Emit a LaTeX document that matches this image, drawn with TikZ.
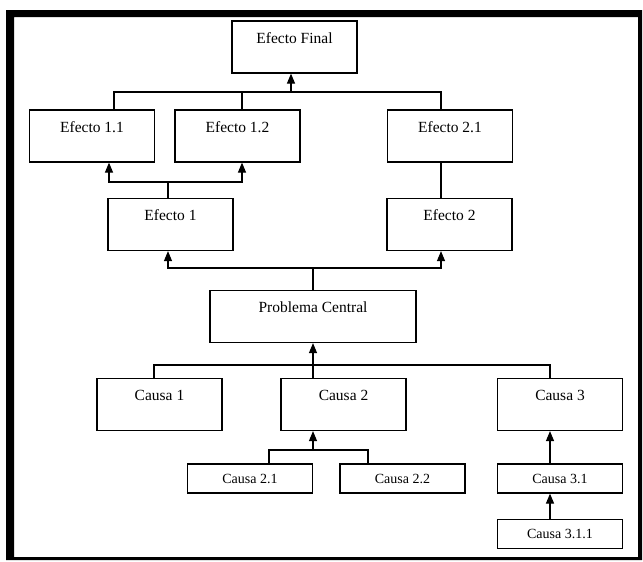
\documentclass[tikz,border=0pt]{standalone}
\usepackage{fontspec}
\setmainfont{Liberation Serif}
\usetikzlibrary{arrows.meta}

\begin{document}
\begin{tikzpicture}[x=1pt,y=-1pt,line width=1.2pt,
  caja/.style={draw,inner sep=0pt,minimum width=125pt,text height=22pt,text depth=30pt,font=\fontsize{15.5}{18}\selectfont},
  cajita/.style={caja,text height=19pt,text depth=10pt,font=\fontsize{14}{16}\selectfont},
  flecha/.style={-{Triangle[length=10pt,width=8pt]}}]
\useasboundingbox (0,0) rectangle (643,562);
\fill (6,10) rectangle (642,17) (6,10) rectangle (14,560) (638,10) rectangle (642,560) (6,557) rectangle (642,560);

\node[caja] (final) at (294.5,47) {Efecto Final};
\node[caja] (e11) at (92,136) {Efecto 1.1};
\node[caja] (e12) at (237.5,136) {Efecto 1.2};
\node[caja] (e21) at (450,136) {Efecto 2.1};
\node[caja] (e1) at (170.5,224.5) {Efecto 1};
\node[caja] (e2) at (449.5,224.5) {Efecto 2};
\node[caja,minimum width=206pt] (pc) at (313,316.5) {Problema Central};
\node[caja] (c1) at (159.5,404.5) {Causa 1};
\node[caja] (c2) at (343.5,404.5) {Causa 2};
\node[caja] (c3) at (560,404.5) {Causa 3};
\node[cajita] (c21) at (250,478.5) {Causa 2.1};
\node[cajita] (c22) at (402.5,478.5) {Causa 2.2};
\node[cajita] (c31) at (560,478.5) {Causa 3.1};
\node[cajita] (c311) at (560,534) {Causa 3.1.1};

\coordinate (tj) at (291,92);
\coordinate (t1) at (114,92);
\coordinate (t2) at (242,92);
\coordinate (t3) at (441,92);
\draw (t1 |- e11.north) -- (t1) -- (t3) -- (t3 |- e21.north);
\draw (t2) -- (t2 |- e12.north);
\draw[flecha] (tj) -- (tj |- final.south);

\coordinate (a1) at (109,182);
\coordinate (a2) at (242,182);
\coordinate (a3) at (168,182);
\draw[flecha] (a3 |- e1.north) -- (a3) -- (a1) -- (a1 |- e11.south);
\draw[flecha] (a3) -- (a2) -- (a2 |- e12.south);
\draw (t3 |- e2.north) -- (t3 |- e21.south);

\coordinate (b1) at (168,268);
\coordinate (b2) at (441,268);
\coordinate (b3) at (313,268);
\draw (pc.north) -- (b3);
\draw[flecha] (b3) -- (b1) -- (b1 |- e1.south);
\draw[flecha] (b3) -- (b2) -- (b2 |- e2.south);

\coordinate (d1) at (154,365);
\coordinate (d2) at (313,365);
\coordinate (d3) at (550,365);
\draw (d1 |- c1.north) -- (d1) -- (d3) -- (d3 |- c3.north);
\draw[flecha] (d2 |- c2.north) -- (pc.south);

\coordinate (f1) at (269,450);
\coordinate (f2) at (368,450);
\coordinate (f3) at (313,450);
\draw (f1 |- c21.north) -- (f1) -- (f2) -- (f2 |- c22.north);
\draw[flecha] (f3) -- (f3 |- c2.south);
\draw[flecha] (d3 |- c31.north) -- (d3 |- c3.south);
\draw[flecha] (d3 |- c311.north) -- (d3 |- c31.south);
\end{tikzpicture}
\end{document}
